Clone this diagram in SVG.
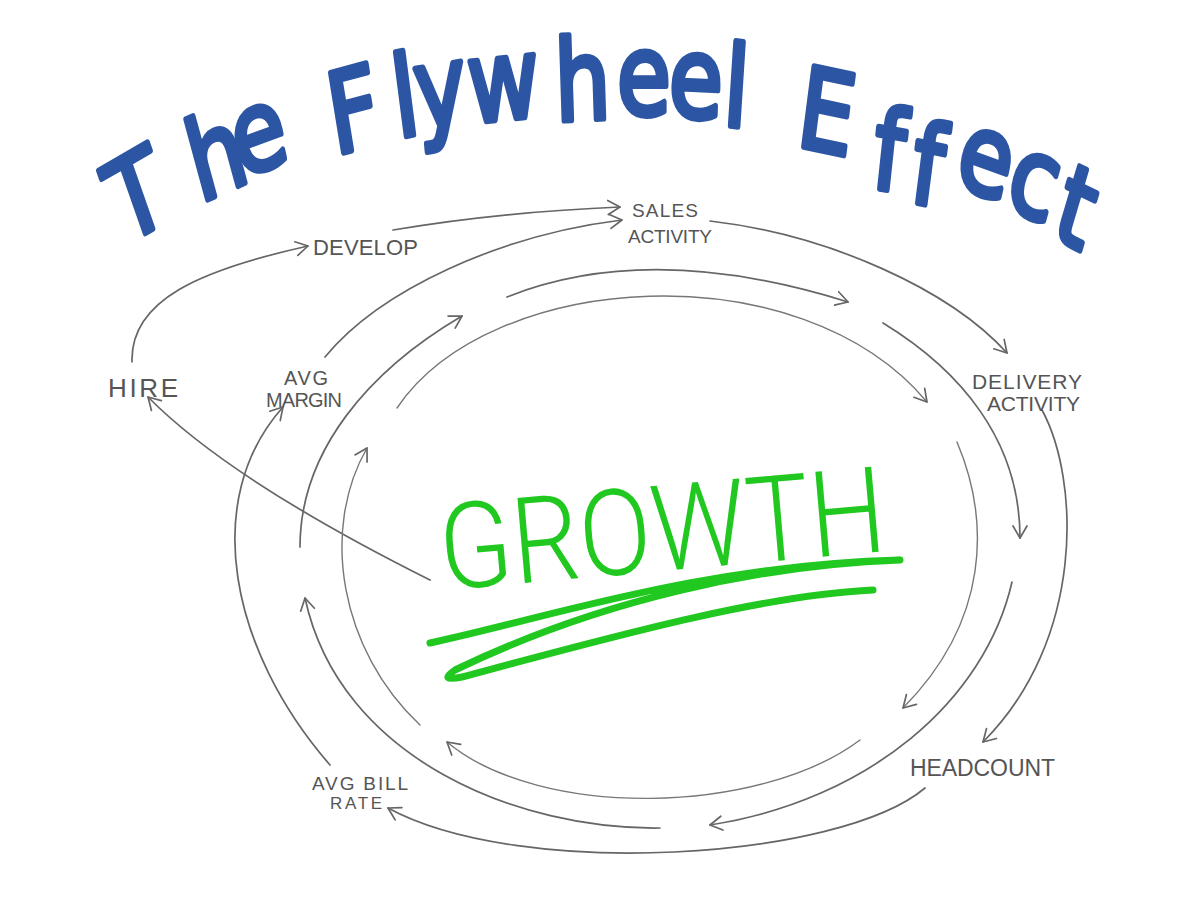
<svg xmlns="http://www.w3.org/2000/svg" width="1200" height="900" viewBox="0 0 1200 900">
<defs>
<style>
.title{font-family:"DejaVu Sans","Liberation Sans",sans-serif;font-size:112px;fill:#2c55a4;stroke:#2c55a4;stroke-width:6;stroke-linejoin:round;stroke-linecap:round}
.lbl{font-family:"Liberation Sans",Arial,sans-serif;fill:#555}
.growth{font-family:Roboto,"Liberation Sans",sans-serif;font-weight:300;font-size:120px;fill:#20c820}
.c{fill:none;stroke:#666;stroke-width:1.7;stroke-linecap:round;marker-end:url(#ah)}
.ci{stroke:#777;stroke-width:1.4}
.ul{fill:none;stroke:#20c820;stroke-width:7;stroke-linecap:round;stroke-linejoin:round}
</style>
<marker id="ah" markerUnits="userSpaceOnUse" markerWidth="18" markerHeight="18" refX="13" refY="8" orient="auto" viewBox="0 0 18 16">
<path d="M1,1 L13,8 L1,15" fill="none" stroke="#666" stroke-width="1.7" stroke-linecap="round" stroke-linejoin="round"/>
</marker>
</defs>
<rect width="1200" height="900" fill="#fff"/>

<g id="title" transform="scale(0.78,1)">
<text class="title" x="160.1 256.3 307.7" y="245 203 178" rotate="-24.2 -19.2 -15.8">The</text>
<text class="title" x="429.5 510.3 535.9 602.6 712.8 791 856.4 925.6" y="155 138 130 123 121 114 116 125" rotate="-11.8 -9.4 -7 -4.7 -2.3 0 2.3 4.7">Flywheel</text>
<text class="title" x="1019.2 1115.4 1164.1 1221.8 1285.9 1346.2" y="145 187 201 184 205 236" rotate="9.4 7.8 9.4 15.8 19.2 20.8">Effect</text>
</g>

<g id="connectors">
<path class="c" d="M132,362 C130,300 200,270 308,246"/>
<path class="c" d="M393,230 Q500,212 620,207"/>
<path class="c" d="M325,357 C380,290 500,235 622,220"/>
<path class="c" d="M710,221 C830,235 950,290 1007,353"/>
<path class="c" d="M1042,410 C1080,480 1085,640 983,742"/>
<path class="c" d="M925,788 C840,860 520,880 388,808"/>
<path class="c" d="M330,765 C230,650 200,500 283,407"/>
<path class="c" d="M430,580 Q230,480 148,397"/>
<path class="c" d="M300,547 C300,450 370,370 462,316"/>
<path class="c" d="M507,297 Q650,240 848,302"/>
<path class="c" d="M883,323 C960,370 1020,440 1020,538"/>
<path class="c" d="M1012,582 C985,700 870,800 710,825"/>
<path class="c" d="M660,828 C520,830 340,760 305,598"/>
<path class="c ci" d="M420,725 C340,650 320,530 367,448"/>
<path class="c ci" d="M397,408 C490,270 800,250 927,402"/>
<path class="c ci" d="M957,442 C990,520 990,620 903,708"/>
<path class="c ci" d="M860,740 C760,815 540,820 447,742"/>
</g>

<g id="sales-activity">
<text class="lbl" x="632" y="217" style="font-size:19px" textLength="66">SALES</text>
<text class="lbl" x="628" y="243" style="font-size:19px" textLength="84">ACTIVITY</text>
</g>
<g id="develop">
<text class="lbl" x="313" y="255" style="font-size:22px" textLength="105">DEVELOP</text>
</g>
<g id="hire">
<text class="lbl" x="108" y="397" style="font-size:26px" textLength="70">HIRE</text>
</g>
<g id="avg-margin">
<text class="lbl" x="284" y="385" style="font-size:20px" textLength="44">AVG</text>
<text class="lbl" x="266" y="407" style="font-size:20px" textLength="76">MARGIN</text>
</g>
<g id="delivery-activity">
<text class="lbl" x="972" y="389" style="font-size:21px" textLength="110">DELIVERY</text>
<text class="lbl" x="987" y="411" style="font-size:21px" textLength="93">ACTIVITY</text>
</g>
<g id="headcount">
<text class="lbl" x="910" y="776" style="font-size:23px" textLength="145">HEADCOUNT</text>
</g>
<g id="avg-bill-rate">
<text class="lbl" x="312" y="790" style="font-size:19px" textLength="96">AVG BILL</text>
<text class="lbl" x="330" y="809" style="font-size:17px" textLength="52">RATE</text>
</g>

<g id="growth">
<text class="growth" x="443" y="590" textLength="447" lengthAdjust="spacingAndGlyphs" transform="rotate(-5 443 590)">GROWTH</text>
<path class="ul" d="M430,643 C540,620 700,565 900,560 C760,565 600,600 455,670 Q438,682 462,677 C600,640 760,595 873,590"/>
</g>
</svg>
